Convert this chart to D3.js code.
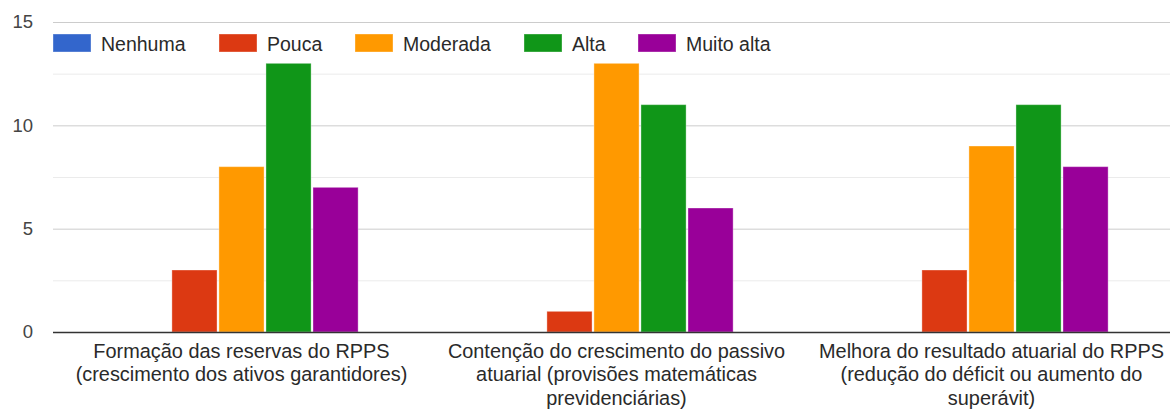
<!DOCTYPE html>
<html>
<head>
<meta charset="utf-8">
<script src="https://cdn.jsdelivr.net/npm/d3@7"></script>
<style>
  html, body { margin: 0; padding: 0; background: #fff; }
  svg { display: block; font-family: "Liberation Sans", Arial, sans-serif; }
</style>
</head>
<body>
<svg id="chart" width="1170" height="410"></svg>
<script>
// Questions (x-axis categories), each label split into lines
const categories = [
  ["Formação das reservas do RPPS", "(crescimento dos ativos garantidores)"],
  ["Contenção do crescimento do passivo", "atuarial (provisões matemáticas", "previdenciárias)"],
  ["Melhora do resultado atuarial do RPPS", "(redução do déficit ou aumento do", "superávit)"]
];
const seriesNames = ["Nenhuma", "Pouca", "Moderada", "Alta", "Muito alta"];
const seriesColors = ["#3366cc", "#dc3912", "#ff9900", "#109618", "#990099"];
// counts per question, in series order
const nenhuma   = [0, 0, 0];
const pouca     = [3, 1, 3];
const moderada  = [8, 13, 9];
const alta      = [13, 11, 11];
const muitoAlta = [7, 6, 8];
const yTicks = [0, 5, 10, 15];

const seriesValues = [nenhuma, pouca, moderada, alta, muitoAlta];

const svg = d3.select("#chart");
const plotLeft = 54, plotRight = 1179, plotTop = 22, plotBottom = 332;

const catIdx = categories.map((_, i) => i);
const x0 = d3.scaleBand().domain(catIdx).range([plotLeft, plotRight])
  .paddingInner(0.378).paddingOuter(0.189);
const x1 = d3.scaleBand().domain(d3.range(seriesNames.length))
  .range([0, x0.bandwidth()]).paddingInner(0.04);
const y = d3.scaleLinear().domain([0, 15]).range([plotBottom, plotTop]);

// minor gridlines
svg.append("g").selectAll("line")
  .data([2.5, 7.5, 12.5]).join("line")
  .attr("x1", plotLeft - 1).attr("x2", 1170)
  .attr("y1", d => y(d) + 0.5).attr("y2", d => y(d) + 0.5)
  .attr("stroke", "#ebebeb").attr("stroke-width", 1);

// major gridlines
svg.append("g").selectAll("line")
  .data(yTicks.filter(d => d > 0)).join("line")
  .attr("x1", plotLeft - 1).attr("x2", 1170)
  .attr("y1", d => y(d) + 0.5).attr("y2", d => y(d) + 0.5)
  .attr("stroke", "#cccccc").attr("stroke-width", 1);

// y tick labels
svg.append("g").selectAll("text")
  .data(yTicks).join("text")
  .attr("x", 33).attr("y", d => y(d))
  .attr("dy", "0.35em").attr("text-anchor", "end")
  .attr("font-size", 18.5).attr("fill", "#444")
  .text(d => d);

// bars
const groups = svg.append("g").selectAll("g")
  .data(catIdx).join("g")
  .attr("transform", i => `translate(${x0(i)},0)`);

groups.selectAll("rect")
  .data(i => seriesValues.map((vals, s) => ({ s, v: vals[i] })).filter(d => d.v > 0))
  .join("rect")
  .attr("x", d => x1(d.s))
  .attr("width", x1.bandwidth())
  .attr("y", d => y(d.v))
  .attr("height", d => y(0) - y(d.v))
  .attr("fill", d => seriesColors[d.s])
  .attr("stroke", "#ffffff").attr("stroke-opacity", 0.35).attr("stroke-width", 1);

// baseline
svg.append("line")
  .attr("x1", plotLeft - 1).attr("x2", 1170)
  .attr("y1", y(0) + 0.5).attr("y2", y(0) + 0.5)
  .attr("stroke", "#333").attr("stroke-width", 1.5);

// category labels
const catLabels = svg.append("g").selectAll("text")
  .data(catIdx).join("text")
  .attr("x", i => x0(i) + x0.bandwidth() / 2)
  .attr("y", 357.5)
  .attr("text-anchor", "middle")
  .attr("font-size", 19.9).attr("fill", "#2a2a2a");
catLabels.selectAll("tspan")
  .data(i => categories[i].map(line => ({ line, cx: x0(i) + x0.bandwidth() / 2 })))
  .join("tspan")
  .attr("x", d => d.cx)
  .attr("dy", (d, k) => k === 0 ? 0 : 23.5)
  .text(d => d.line);

// legend
const legendX = [53, 219, 355, 524, 638];
const legend = svg.append("g").selectAll("g")
  .data(seriesNames).join("g")
  .attr("transform", (d, i) => `translate(${legendX[i]},34)`);
legend.append("rect")
  .attr("width", 38).attr("height", 18)
  .attr("fill", (d, i) => seriesColors[i])
  .attr("stroke", "#ffffff").attr("stroke-opacity", 0.35);
legend.append("text")
  .attr("x", 48).attr("y", 16.5)
  .attr("font-size", 19.5).attr("fill", "#2a2a2a")
  .text(d => d);
</script>
</body>
</html>
